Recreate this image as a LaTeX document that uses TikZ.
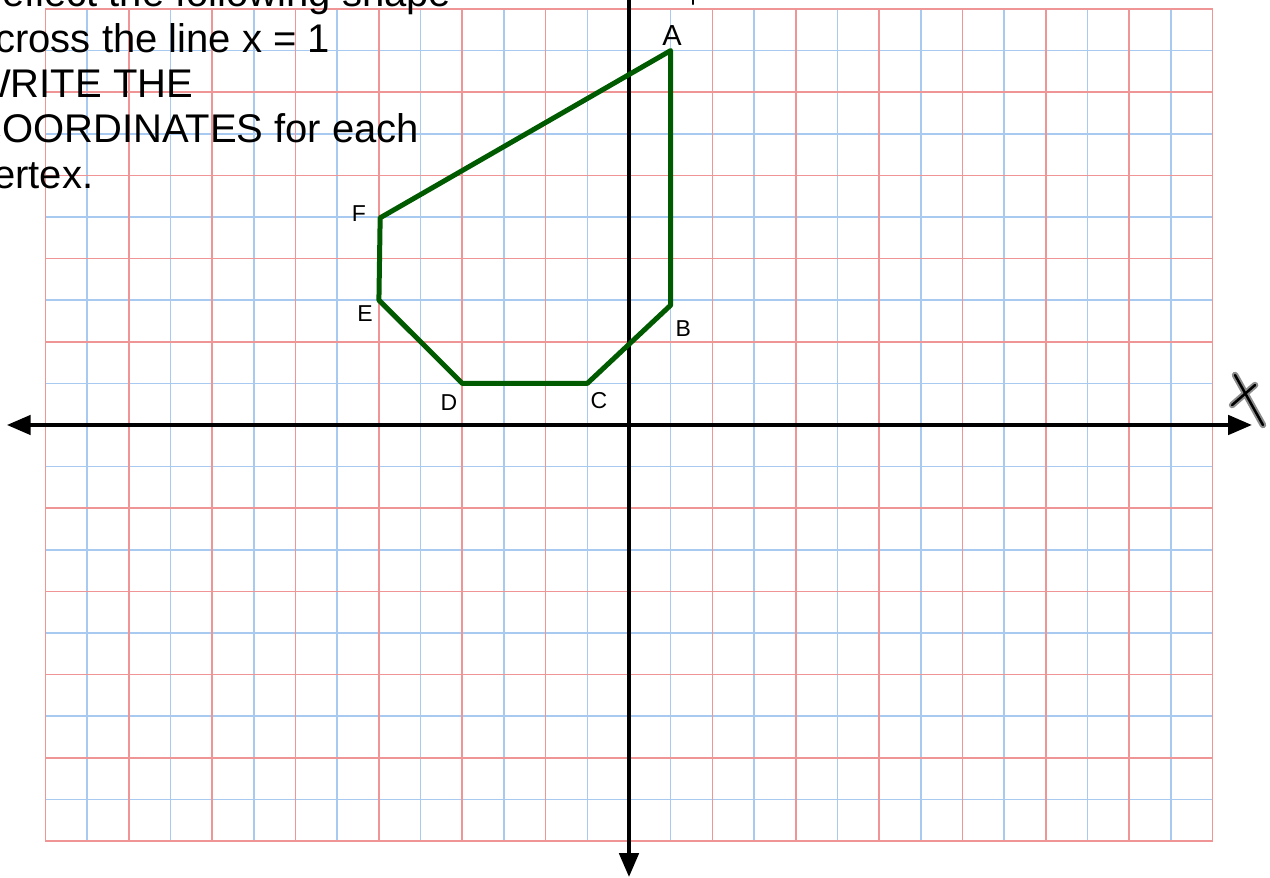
\documentclass[tikz,border=0pt]{standalone}
\usepackage{fontspec}
\setmainfont{Liberation Sans}
\usetikzlibrary{arrows.meta}
\definecolor{gridblue}{HTML}{A8CAF0}
\definecolor{gridred}{HTML}{F09595}
\definecolor{shapegreen}{HTML}{005A00}
\definecolor{penshadow}{HTML}{8C8C8C}

\begin{document}
\begin{tikzpicture}[x=41.68pt, y=41.6pt,
    gridline/.style={line width=1.6pt},
    axisline/.style={line width=4.6pt, {Triangle[length=24pt,width=19pt]}-{Triangle[length=24pt,width=19pt]}},
    vertexlabel/.style={font=\fontsize{23}{23}\selectfont, inner sep=0pt},
    penstroke/.style={line width=2.5pt, line cap=round},
    penglow/.style={penshadow, line width=6.5pt, line cap=round}]
  \useasboundingbox (-15.091,-10.889) rectangle (15.379,10.216);

  % graph paper
  \foreach \x in {-13,-11,...,13} \draw[gridblue, gridline] (\x,-10) -- (\x,10);
  \foreach \y in {-9,-7,...,9} \draw[gridblue, gridline] (-14,\y) -- (14,\y);
  \foreach \x in {-14,-12,...,14} \draw[gridred, gridline] (\x,-10) -- (\x,10);
  \foreach \y in {-10,-8,...,10} \draw[gridred, gridline] (-14,\y) -- (14,\y);

  % axes
  \coordinate (xleft) at (-14.93,0);
  \coordinate (xright) at (14.95,0);
  \coordinate (ybottom) at (0,-10.87);
  \coordinate (ytop) at (0,10.9);
  \draw[axisline] (xleft) -- (xright);
  \draw[axisline] (ybottom) -- (ytop);

  % the shape
  \coordinate (A) at (1,9);
  \coordinate (B) at (1,2.88);
  \coordinate (C) at (-1,1);
  \coordinate (D) at (-4,1);
  \coordinate (E) at (-6,3);
  \coordinate (F) at (-5.97,4.98);
  \draw[shapegreen, line width=5pt, line join=round] (A) -- (B) -- (C) -- (D) -- (E) -- (F) -- cycle;

  \node[vertexlabel, font=\fontsize{29}{29}\selectfont] (lblA) at (1.03,9.37) {A};
  \node[vertexlabel] (lblB) at (1.30,2.31) {B};
  \node[vertexlabel] (lblC) at (-0.72,0.58) {C};
  \node[vertexlabel] (lblD) at (-4.32,0.55) {D};
  \node[vertexlabel] (lblE) at (-6.33,2.67) {E};
  \node[vertexlabel] (lblF) at (-6.48,5.07) {F};

  % instructions
  \foreach \ln [count=\i] in {Reflect the following shape, across the line x = 1,
      WRITE THE, COORDINATES for each, vertex.}
    \node[anchor=base west, inner sep=0pt, font=\fontsize{40}{45}\selectfont]
      (txt\i) at (-15.74,{10.05-1.089*(\i-1)}) {\ln};

  % pen marks
  \draw[penglow] (14.54,1.20) -- (15.21,0);
  \draw[penglow] (14.47,0.48) -- (15.02,0.96);
  \draw[penstroke] (14.54,1.20) -- (15.21,0);
  \draw[penstroke] (14.47,0.48) -- (15.02,0.96);
  \draw[penstroke] (1.54,10.3) -- (1.54,10.12);
\end{tikzpicture}
\end{document}
